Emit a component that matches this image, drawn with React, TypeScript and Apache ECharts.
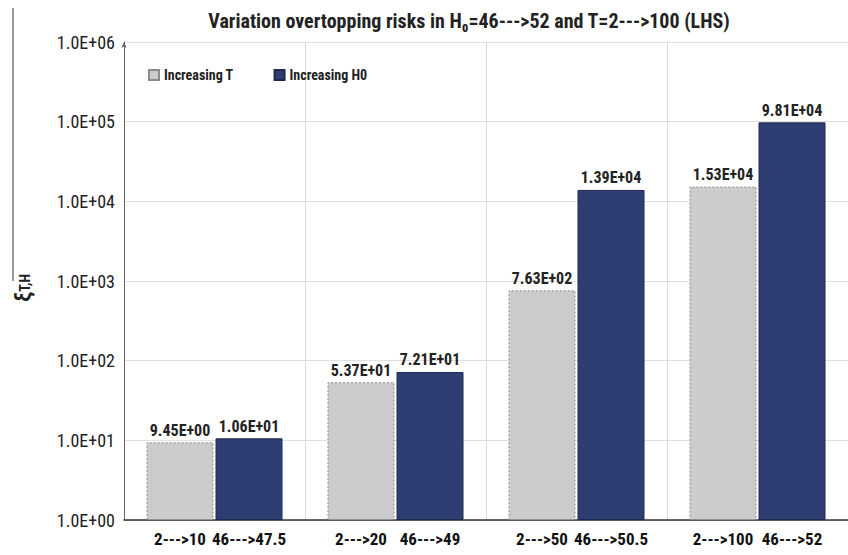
import React, { useEffect, useRef } from "react";
import * as echarts from "echarts";

const tLabels = ["2--->10", "2--->20", "2--->50", "2--->100"];
const hLabels = ["46--->47.5", "46--->49", "46--->50.5", "46--->52"];
const categories = ["g1", "g2", "g3", "g4"];
const increasingT = [9.45, 53.7, 763, 15300];
const increasingH0 = [10.6, 72.1, 13900, 98100];

const FONT = "'Liberation Sans Narrow', 'Arial Narrow', 'Roboto Condensed', 'Noto Sans', sans-serif";

function sci(v: number, d: number): string {
  const s = v.toExponential(d);
  const [m, e] = s.split("e");
  const sign = e[0] === "-" ? "-" : "+";
  const n = e.replace(/[+-]/, "");
  return m + "E" + sign + (n.length < 2 ? "0" + n : n);
}

export default function App() {
  const ref = useRef<HTMLDivElement>(null);
  useEffect(() => {
    const chart = echarts.init(ref.current!, null, { renderer: "svg" });
    chart.setOption({
      animation: false,
      textStyle: { fontFamily: FONT },
      title: {
        text: "Variation overtopping risks in H\u2080=46--->52 and T=2--->100 (LHS)",
        left: 464,
        textAlign: "center",
        top: 6,
        textStyle: { fontFamily: FONT, fontSize: 20, fontWeight: "bold", color: "#222" },
      },
      legend: {
        left: 143,
        top: 63,
        itemWidth: 10,
        itemHeight: 10,
        itemGap: 40,
        icon: "rect",
        textStyle: { fontFamily: FONT, fontSize: 14, fontWeight: "bold", color: "#222" },
        data: ["Increasing T", "Increasing H0"],
      },
      grid: { left: 124, right: -4, top: 42, bottom: 35, containLabel: false },
      xAxis: {
        type: "category",
        data: categories,
        axisLine: { lineStyle: { color: "#333", width: 1.5 } },
        axisTick: { show: false },
        splitLine: { show: true, lineStyle: { color: "#d9d9d9" } },
        axisLabel: {
          margin: 10,
          formatter: (_v: string, i: number) => `{a|${tLabels[i]}}{b|${hLabels[i]}}`,
          rich: {
            a: { width: 69, align: "center", fontFamily: FONT, fontSize: 17, fontWeight: "bold", color: "#111" },
            b: { width: 69, align: "center", fontFamily: FONT, fontSize: 17, fontWeight: "bold", color: "#111" },
          },
        },
      },
      yAxis: {
        type: "log",
        logBase: 10,
        min: 1,
        max: 1e6,
        axisLine: { show: true, lineStyle: { color: "#666" }, symbol: ["none", "arrow"], symbolSize: [4, 6] },
        axisTick: { show: false },
        splitLine: { show: true, lineStyle: { color: "#e0e0e0" } },
        axisLabel: {
          margin: 9,
          formatter: (v: number) => sci(v, 1),
          fontFamily: FONT,
          fontSize: 18,
          color: "#222",
        },
      },
      series: [
        {
          name: "Increasing T",
          type: "bar",
          data: increasingT,
          barWidth: 67,
          barGap: "3%",
          itemStyle: { color: "#cccccc", borderColor: "#8a8a8a", borderWidth: 1, borderType: [2, 2] },
          label: {
            show: true,
            position: "top",
            distance: 4,
            formatter: (p: any) => sci(p.value, 2),
            fontFamily: FONT,
            fontSize: 16,
            fontWeight: "bold",
            color: "#222",
          },
        },
        {
          name: "Increasing H0",
          type: "bar",
          data: increasingH0,
          barWidth: 67,
          itemStyle: { color: "#2e3e72", borderColor: "#1f2a50", borderWidth: 1 },
          label: {
            show: true,
            position: "top",
            distance: 4,
            formatter: (p: any) => sci(p.value, 2),
            fontFamily: FONT,
            fontSize: 16,
            fontWeight: "bold",
            color: "#222",
          },
        },
      ],
      graphic: [
        { type: "line", shape: { x1: 13, y1: 8, x2: 13, y2: 281 }, style: { stroke: "#777", lineWidth: 1.5 } },
        {
          type: "text",
          x: 22,
          y: 288,
          rotation: Math.PI / 2,
          style: {
            text: "{x|\u03be}{s|T,H}",
            align: "center",
            verticalAlign: "middle",
            rich: {
              x: { fontFamily: FONT, fontSize: 22, fontWeight: "bold", fill: "#222" },
              s: { fontFamily: FONT, fontSize: 14, fontWeight: "bold", fill: "#222", padding: [6, 0, 0, 0] },
            },
          },
        },
      ],
    });
    return () => chart.dispose();
  }, []);
  return <div ref={ref} style={{ width: 848, height: 555, position: "absolute", left: 0, top: 0 }} />;
}
